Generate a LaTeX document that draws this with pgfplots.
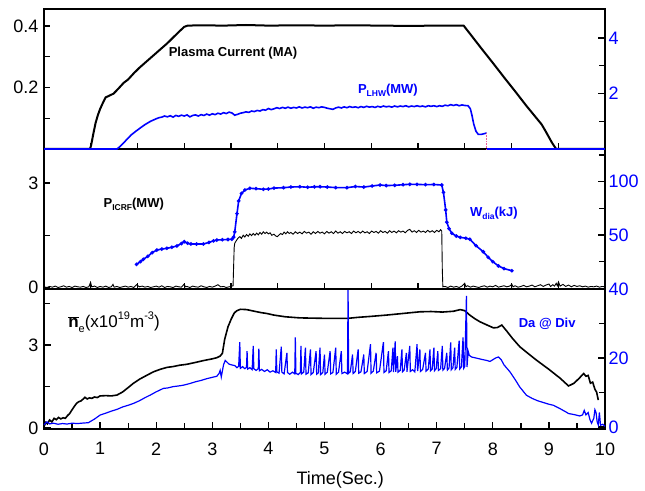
\documentclass[border=0pt]{standalone}
\usepackage{fontspec}
\setmainfont{Liberation Sans}
\usepackage{pgfplots}
\pgfplotsset{compat=1.18}

\definecolor{traceblue}{RGB}{0,0,255}
\definecolor{cutpink}{RGB}{235,90,150}

\newcommand{\lbl}{\fontsize{13}{13}\selectfont\bfseries}
\newcommand{\sub}[1]{\raisebox{-0.45ex}{\fontsize{8.5}{8.5}\selectfont #1}}
\newcommand{\sups}[1]{\raisebox{0.9ex}{\fontsize{11}{11}\selectfont #1}}
\newcommand{\subr}[1]{\raisebox{-0.5ex}{\fontsize{11}{11}\selectfont #1}}

\pgfplotsset{
  panel/.style={
    width=561pt, height=140pt, scale only axis,
    xmin=0, xmax=10, clip=false,
    axis line style={line width=1.5pt},
    every tick/.style={black, line width=1.3pt},
    major tick length=7pt, minor tick length=6pt,
    tick label style={font=\fontsize{18}{18}\selectfont},
    /pgf/number format/assume math mode=true,
    yticklabel style={xshift=-2pt},
  },
  leftpanel/.style={panel, ytick pos=left, xtick pos=bottom},
  rightpanel/.style={panel, axis x line=none, axis y line*=right,
    yticklabel style={text=traceblue, xshift=2pt}},
  % the two upper panels keep their own twelve-step time ticks, unlabelled
  upperticks/.style={
    xtick={0.8333,1.6667,2.5,3.3333,4.1667,5,5.8333,6.6667,7.5,8.3333,9.1667},
    xticklabels={}, major tick length=6pt},
}

\begin{document}
\begin{tikzpicture}
\useasboundingbox (-44pt,-61pt) rectangle (601pt,429pt);

% panels are drawn from the bottom up, so that each trace lying on a
% panel's lower edge is painted over the frame of the panel beneath it

% ---------------- bottom panel: line density and D-alpha at divertor ----------------
\begin{axis}[leftpanel, at={(0pt,0pt)},
  ymin=-0.036, ymax=5.024, ytick={0,3}, minor ytick={1.5,4.5},
  xtick={0,1,...,10}, minor xtick={0.5,1.5,...,9.5},
  xticklabel style={yshift=-10pt}]
\addplot[black, line width=1.6pt] coordinates {
(0,0.05)(0.03,0.2)(0.06,0.15)(0.1,0.29)(0.14,0.22)(0.18,0.35)(0.22,0.3)(0.26,0.38)
(0.3,0.33)(0.34,0.37)(0.38,0.35)(0.42,0.45)(0.46,0.53)(0.5,0.66)(0.54,0.78)(0.58,0.89)
(0.62,0.95)(0.66,0.98)(0.7,1.05)(0.73,1.11)(0.77,1.05)(0.81,1.09)(0.85,1.07)(0.9,1.12)
(0.95,1.1)(1.0,1.16)(1.1,1.17)(1.2,1.16)(1.3,1.19)(1.4,1.3)(1.5,1.46)(1.59,1.61)
(1.7,1.76)(1.8,1.87)(1.95,2.03)(2.07,2.12)(2.19,2.19)(2.3,2.22)(2.42,2.27)(2.54,2.30)
(2.7,2.37)(2.85,2.44)(3.0,2.5)(3.08,2.54)(3.14,2.6)(3.18,2.7)(3.22,3.2)(3.28,3.66)
(3.34,3.95)(3.39,4.15)(3.43,4.23)(3.5,4.29)(3.61,4.28)(3.75,4.22)(3.87,4.17)(3.97,4.14)
(4.1,4.08)(4.3,4.02)(4.56,3.98)(4.8,3.97)(5.1,3.96)(5.4,3.96)(5.6,4.0)(5.8,4.03)
(6.1,4.08)(6.4,4.14)(6.7,4.2)(6.9,4.21)(7.1,4.19)(7.3,4.22)(7.42,4.28)(7.5,4.24)
(7.59,4.08)(7.68,3.95)(7.77,3.84)(7.9,3.72)(8.01,3.62)(8.08,3.63)(8.16,3.72)(8.25,3.5)
(8.35,3.24)(8.48,2.94)(8.6,2.74)(8.78,2.45)(9.0,2.12)(9.2,1.8)(9.35,1.52)(9.45,1.62)
(9.55,1.82)(9.62,1.97)(9.66,1.87)(9.7,1.9)(9.74,1.62)(9.78,1.66)(9.82,1.4)(9.85,1.3)
(9.88,1.01)};
\node[anchor=west, font=\fontsize{17}{17}\selectfont] at (axis cs:0.37,3.83)
  {$\overline{\hbox{\bfseries n}}$\subr{e}(x10\sups{19}m\sups{-3})};
\node[font=\fontsize{18}{18}\selectfont] at (axis cs:5.28,-1.88) {Time(Sec.)};
\end{axis}
\begin{axis}[rightpanel, at={(0pt,0pt)},
  ymin=-0.58, ymax=40.0, ytick={0,20,40}, minor ytick={10,30}]
\addplot[traceblue, line width=1.2pt] coordinates {
(0,0.6)(0.05,1.5)(0.1,0.9)(0.17,1.1)(0.25,0.8)(0.33,1.0)(0.41,0.86)(0.5,1.1)(0.6,1.0)
(0.7,1.15)(0.79,1.24)(0.9,2.3)(1.0,3.46)(1.1,4.0)(1.2,4.6)(1.3,5.1)(1.4,5.8)(1.5,6.3)
(1.59,6.8)(1.7,7.6)(1.8,8.5)(1.9,9.3)(2.0,10.2)(2.13,11.2)(2.2,11.3)(2.3,11.7)(2.4,11.9)
(2.48,12.1)(2.6,12.6)(2.7,13.1)(2.8,13.5)(2.9,14.0)(3.0,14.4)(3.08,14.7)(3.12,15.5)
(3.14,16.4)(3.16,14.5)(3.2,18)(3.23,19.3)(3.3,18.2)(3.37,17.9)
(3.40,17.8)(3.44,17.2)(3.47,17.6)(3.49,24.6)(3.50,17.0)(3.54,17.5)(3.58,16.9)(3.61,17.3)
(3.62,22.0)(3.63,16.8)(3.67,17.2)(3.71,16.6)(3.73,23.5)(3.74,16.9)(3.78,16.4)(3.82,16.9)
(3.83,22.7)(3.84,16.3)(3.88,16.7)(3.93,16.1)(3.98,16.6)(4.03,15.9)(4.08,16.3)(4.13,15.8)
(4.14,22.5)(4.15,16.0)(4.19,15.6)(4.23,23.3)(4.24,15.9)(4.28,15.4)(4.33,21.5)(4.34,15.8)
(4.38,15.3)(4.43,15.9)(4.47,15.4)(4.48,26.0)(4.49,15.6)(4.53,15.2)(4.57,15.8)(4.58,23.5)
(4.59,15.4)(4.63,15.9)(4.66,23.0)(4.67,15.3)(4.71,15.7)(4.75,22.5)(4.76,15.2)(4.80,15.8)
(4.85,22.0)(4.86,15.3)(4.89,15.7)(4.92,23.0)(4.93,15.2)(4.97,15.8)(5.00,21.0)(5.01,15.3)
(5.05,15.9)(5.10,22.0)(5.11,15.4)(5.15,15.8)(5.20,23.0)(5.21,15.3)(5.25,15.9)(5.30,22.0)
(5.31,15.5)(5.36,15.9)(5.41,15.4)(5.42,40.0)(5.43,15.6)(5.46,16.0)(5.50,21.0)(5.51,15.5)
(5.55,16.1)(5.60,22.5)(5.61,15.6)(5.65,16.0)(5.70,21.0)(5.71,15.5)(5.76,16.1)(5.82,24.0)
(5.83,15.6)(5.87,16.2)(5.92,21.5)(5.93,15.7)(5.98,16.2)(6.05,24.6)(6.06,15.8)(6.10,16.3)
(6.14,22.0)(6.15,15.8)(6.19,16.3)(6.22,23.0)(6.23,15.9)(6.26,24.8)(6.27,16.0)(6.30,20.5)
(6.31,15.9)(6.35,16.4)(6.38,22.5)(6.39,16.0)(6.42,16.5)(6.46,21.5)(6.47,16.0)(6.52,23.5)
(6.53,16.1)(6.57,16.6)(6.61,16.0)(6.65,24.0)(6.66,16.2)(6.70,22.5)(6.71,16.1)(6.75,16.7)
(6.80,21.5)(6.81,16.2)(6.85,16.8)(6.88,22.5)(6.89,16.3)(6.92,16.8)(6.95,23.0)(6.96,16.3)
(6.99,16.9)(7.02,22.0)(7.03,16.4)(7.07,16.9)(7.10,23.5)(7.11,16.5)(7.14,17.0)(7.18,21.5)
(7.19,16.5)(7.22,17.1)(7.25,24.5)(7.26,16.6)(7.29,17.2)(7.32,23.0)(7.33,16.7)(7.36,17.3)
(7.40,25.0)(7.41,16.8)(7.44,17.4)(7.47,26.0)(7.48,17.0)(7.50,17.5)(7.53,38.0)(7.54,17.4)
(7.56,22.0)(7.58,20.8)(7.62,20.3)(7.7,20.0)(7.8,19.6)(7.89,19.3)(7.95,19.0)(8.0,19.5)
(8.05,20.0)(8.1,20.3)(8.15,19.5)(8.2,18)(8.31,15.9)(8.4,13.7)(8.48,11.6)(8.55,10.2)
(8.6,9.2)(8.7,8.3)(8.8,7.6)(8.9,7.1)(9.0,6.6)(9.08,6.3)(9.2,5.3)(9.3,4.4)(9.35,3.9)
(9.45,3.6)(9.55,3.2)(9.6,3.5)(9.63,4.8)(9.66,3.5)(9.7,4.2)(9.73,2.2)(9.76,1.1)(9.8,2.5)
(9.82,5.0)(9.84,4.2)(9.86,1.5)(9.88,0.6)(9.9,4.2)(9.92,0.5)(9.96,0.8)(10,0.2)};
\node[font=\lbl, text=traceblue] at (axis cs:8.97,30) {Da @ Div};
\end{axis}

% ---------------- middle panel: ICRF power and stored energy ----------------
\begin{axis}[leftpanel, upperticks, at={(0pt,140pt)},
  ymin=-0.043, ymax=3.976, ytick={0,3}, minor ytick={1.5}]
\addplot[black, line width=0.9pt] coordinates {
(0,0.02)(0.05,0.0)(0.1,0.03)(0.15,0.01)(0.2,0.04)(0.25,0.0)(0.3,0.02)(0.35,0.05)
(0.4,0.01)(0.45,0.03)(0.5,0.0)(0.55,0.04)(0.6,0.02)(0.65,0.01)(0.7,0.03)(0.75,0.0)
(0.8,0.02)(0.83,0.15)(0.85,0.02)(0.9,0.04)(0.95,0.0)(1.0,0.03)(1.05,0.01)(1.1,0.04)
(1.15,0.0)(1.2,0.02)(1.23,0.09)(1.25,0.01)(1.3,0.03)(1.35,0.0)(1.4,0.02)(1.45,0.04)
(1.5,0.01)(1.55,0.03)(1.6,0.0)(1.65,0.08)(1.7,0.02)(1.75,0.04)(1.8,0.01)(1.85,0.03)
(1.9,0.0)(1.95,0.02)(2.0,0.04)(2.05,0.01)(2.1,0.05)(2.15,0.0)(2.2,0.03)(2.25,0.02)
(2.3,0.0)(2.35,0.04)(2.4,0.02)(2.45,0.01)(2.5,0.10)(2.52,0.02)(2.55,0.03)(2.6,0.0)
(2.65,0.04)(2.7,0.02)(2.75,0.01)(2.8,0.05)(2.85,0.02)(2.9,0.0)(2.95,0.03)(3.0,0.01)
(3.05,0.04)(3.1,0.08)(3.15,0.02)(3.2,0.03)(3.25,0.0)(3.3,0.02)(3.35,0.04)(3.37,0.05)
(3.38,0.6)(3.39,1.15)(3.40,1.27)(3.43,1.35)(3.46,1.42)(3.49,1.46)(3.52,1.41)(3.55,1.50)
(3.58,1.45)(3.61,1.52)(3.64,1.47)(3.67,1.54)(3.70,1.49)(3.73,1.55)(3.76,1.50)(3.79,1.56)
(3.82,1.51)(3.85,1.58)(3.88,1.53)(3.91,1.60)(3.94,1.55)(3.97,1.59)(4.00,1.54)(4.03,1.57)
(4.06,1.50)(4.10,1.53)(4.13,1.48)(4.16,1.46)(4.19,1.51)(4.22,1.55)(4.25,1.52)(4.28,1.59)
(4.31,1.54)(4.34,1.60)(4.37,1.55)(4.40,1.58)(4.44,1.53)(4.48,1.60)(4.52,1.55)(4.56,1.59)
(4.60,1.54)(4.64,1.61)(4.68,1.56)(4.72,1.59)(4.76,1.53)(4.80,1.60)(4.84,1.55)(4.88,1.61)
(4.92,1.56)(4.96,1.59)(5.00,1.54)(5.04,1.61)(5.08,1.56)(5.12,1.60)(5.16,1.55)(5.20,1.62)
(5.24,1.56)(5.28,1.60)(5.32,1.55)(5.36,1.61)(5.40,1.57)(5.44,1.60)(5.48,1.55)(5.52,1.62)
(5.56,1.57)(5.60,1.61)(5.64,1.56)(5.68,1.62)(5.72,1.57)(5.76,1.60)(5.80,1.55)(5.84,1.62)
(5.88,1.58)(5.92,1.61)(5.96,1.56)(6.00,1.63)(6.04,1.58)(6.08,1.61)(6.12,1.56)(6.16,1.63)
(6.20,1.58)(6.24,1.62)(6.28,1.57)(6.32,1.63)(6.36,1.59)(6.40,1.62)(6.44,1.57)(6.48,1.64)
(6.52,1.67)(6.56,1.59)(6.60,1.63)(6.64,1.58)(6.68,1.64)(6.72,1.59)(6.76,1.62)(6.80,1.58)
(6.84,1.64)(6.88,1.59)(6.92,1.63)(6.96,1.58)(7.00,1.64)(7.04,1.60)(7.07,1.66)(7.09,1.62)
(7.10,0.5)(7.11,0.02)(7.15,0.03)(7.2,0.0)(7.25,0.04)(7.3,0.01)(7.35,0.03)(7.4,0.0)
(7.45,0.04)(7.5,0.12)(7.52,0.02)(7.55,0.05)(7.6,0.01)(7.65,0.04)(7.7,0.02)(7.75,0.0)
(7.8,0.03)(7.85,0.05)(7.9,0.01)(7.95,0.04)(8.0,0.02)(8.05,0.06)(8.1,0.01)(8.15,0.03)
(8.2,0.05)(8.25,0.02)(8.3,0.04)(8.34,0.09)(8.36,0.02)(8.4,0.05)(8.45,0.01)(8.5,0.03)
(8.55,0.06)(8.6,0.02)(8.65,0.04)(8.7,0.07)(8.75,0.02)(8.8,0.05)(8.85,0.08)(8.9,0.03)
(8.95,0.07)(9.0,0.1)(9.03,0.03)(9.07,0.08)(9.1,0.04)(9.13,0.12)(9.15,0.05)(9.17,0.16)
(9.2,0.04)(9.25,0.09)(9.3,0.03)(9.35,0.07)(9.4,0.02)(9.45,0.06)(9.5,0.03)(9.55,0.05)
(9.6,0.02)(9.65,0.04)(9.7,0.01)(9.75,0.03)(9.8,0.02)(9.85,0.04)(9.9,0.01)(9.95,0.03)(10,0.02)};
\node[font=\lbl] at (axis cs:1.6,2.38) {P\sub{ICRF}(MW)};
\end{axis}
\begin{axis}[rightpanel, at={(0pt,140pt)},
  ymin=-0.66, ymax=130.7, ytick={50,100}, minor ytick={25,75,125}]
\addplot[traceblue, line width=1.6pt, mark=*, mark size=0.9pt] coordinates {
(1.65,22.5)(1.72,25)(1.77,27.2)(1.85,30)(1.93,33.5)(2.01,35.9)(2.1,36.8)(2.19,37.5)
(2.28,38.5)(2.37,39.7)(2.45,42)(2.50,43.7)(2.56,42.3)(2.62,41.6)(2.72,41.5)(2.84,41.6)
(2.94,43)(3.02,44.5)(3.08,45.3)(3.18,45.6)(3.28,45.8)(3.35,46)(3.38,48)(3.40,53)
(3.44,70)(3.47,82)(3.52,89)(3.58,92.2)(3.67,93.8)(3.78,93.5)(3.91,92.9)(4.0,93.2)
(4.1,94)(4.27,94.4)(4.4,95)(4.56,95.3)(4.7,94.8)(4.82,95.2)(4.92,95.3)(5.05,95)
(5.2,94.5)(5.4,94.4)(5.55,95.5)(5.7,95)(5.85,96)(5.99,96.9)(6.1,96.4)(6.25,96.6)
(6.4,97.2)(6.52,97.6)(6.65,97.5)(6.8,97.2)(6.95,97.4)(7.09,96.9)(7.12,90)(7.16,73.5)
(7.18,62)(7.22,56)(7.27,51.6)(7.35,49)(7.42,47.8)(7.52,47)(7.59,46)(7.7,40)
(7.83,34.3)(7.92,29)(8.0,25)(8.1,21)(8.2,18.5)(8.34,16.5)};
\node[font=\lbl, text=traceblue] at (axis cs:8.02,70.6) {W\sub{dia}(kJ)};
\end{axis}

% ---------------- top panel: plasma current and LHW power ----------------
\begin{axis}[leftpanel, upperticks, at={(0pt,280pt)},
  ymin=0, ymax=0.455, ytick={0.2,0.4}, minor ytick={0.1,0.3},
  yticklabel style={/pgf/number format/.cd, fixed, precision=1}]
\addplot[black, line width=2pt] coordinates {
(0,0)(0.82,0)(0.84,0.012)(0.88,0.05)(0.92,0.085)(0.96,0.11)(1.0,0.13)(1.05,0.15)
(1.1,0.168)(1.15,0.172)(1.24,0.18)(1.32,0.195)(1.42,0.215)(1.5,0.226)(1.6,0.246)
(1.7,0.264)(1.8,0.28)(1.9,0.296)(2.0,0.312)(2.1,0.328)(2.2,0.344)(2.3,0.362)
(2.4,0.38)(2.5,0.397)(2.56,0.401)(2.8,0.402)(3.2,0.401)(3.6,0.403)(4.0,0.401)
(4.5,0.402)(5.0,0.401)(5.5,0.402)(6.0,0.401)(6.5,0.400)(7.0,0.401)(7.48,0.401)
(7.6,0.373)(7.8,0.326)(8.0,0.280)(8.2,0.233)(8.4,0.187)(8.6,0.140)(8.87,0.080)
(8.95,0.055)(9.05,0.022)(9.1,0.008)(9.13,0)(10,0)};
\node[font=\lbl] at (axis cs:3.37,0.312) {Plasma Current (MA)};
\end{axis}
\begin{axis}[rightpanel, at={(0pt,280pt)},
  ymin=0, ymax=5.05, ytick={2,4}, minor ytick={1,3}]
\addplot[traceblue, line width=1.6pt] coordinates {
(0,0)(1.30,0)(1.35,0.08)(1.40,0.18)(1.47,0.33)(1.55,0.5)(1.63,0.63)(1.71,0.75)
(1.8,0.88)(1.9,1.0)(2.0,1.09)(2.05,1.13)(2.1,1.15)(2.15,1.19)(2.2,1.16)(2.25,1.2)
(2.3,1.15)(2.35,1.21)(2.4,1.18)(2.45,1.22)(2.5,1.19)(2.55,1.23)(2.6,1.16)(2.65,1.21)
(2.7,1.23)(2.75,1.19)(2.8,1.24)(2.85,1.21)(2.9,1.26)(2.95,1.22)(3.0,1.27)(3.05,1.24)
(3.1,1.29)(3.15,1.26)(3.2,1.31)(3.25,1.28)(3.3,1.33)(3.35,1.30)(3.4,1.22)(3.45,1.25)
(3.5,1.29)(3.55,1.31)(3.6,1.34)(3.65,1.32)(3.7,1.37)(3.75,1.35)(3.8,1.39)(3.85,1.37)
(3.9,1.42)(3.95,1.40)(4.0,1.46)(4.05,1.42)(4.1,1.45)(4.15,1.49)(4.2,1.46)(4.25,1.50)
(4.3,1.47)(4.35,1.51)(4.4,1.47)(4.45,1.50)(4.5,1.48)(4.55,1.52)(4.6,1.48)(4.65,1.51)
(4.7,1.49)(4.75,1.52)(4.8,1.47)(4.85,1.51)(4.9,1.49)(4.95,1.52)(5.0,1.50)(5.05,1.47)
(5.1,1.45)(5.15,1.43)(5.2,1.48)(5.25,1.51)(5.3,1.48)(5.35,1.52)(5.4,1.49)(5.45,1.53)
(5.5,1.50)(5.55,1.52)(5.6,1.49)(5.65,1.53)(5.7,1.50)(5.75,1.54)(5.8,1.51)(5.85,1.53)
(5.9,1.50)(5.95,1.54)(6.0,1.51)(6.05,1.55)(6.1,1.52)(6.15,1.54)(6.2,1.51)(6.25,1.55)
(6.3,1.52)(6.35,1.55)(6.4,1.53)(6.45,1.56)(6.5,1.52)(6.55,1.55)(6.6,1.53)(6.65,1.56)
(6.7,1.53)(6.75,1.55)(6.8,1.52)(6.85,1.56)(6.9,1.54)(6.95,1.56)(7.0,1.53)(7.05,1.56)
(7.1,1.54)(7.15,1.58)(7.2,1.56)(7.25,1.60)(7.3,1.57)(7.35,1.60)(7.4,1.56)(7.45,1.59)
(7.5,1.57)(7.56,1.56)(7.6,1.45)(7.63,1.2)(7.66,0.9)(7.7,0.64)(7.74,0.53)(7.8,0.53)
(7.86,0.56)(7.89,0.58)};
\addplot[cutpink, line width=0.6pt, densely dotted] coordinates {(7.89,0.58)(7.89,0)};
\addplot[traceblue, line width=1.6pt] coordinates {(7.89,0)(10,0)};
\node[font=\lbl, text=traceblue] at (axis cs:6.13,2.12) {P\sub{LHW}(MW)};
\end{axis}
\end{tikzpicture}
\end{document}
